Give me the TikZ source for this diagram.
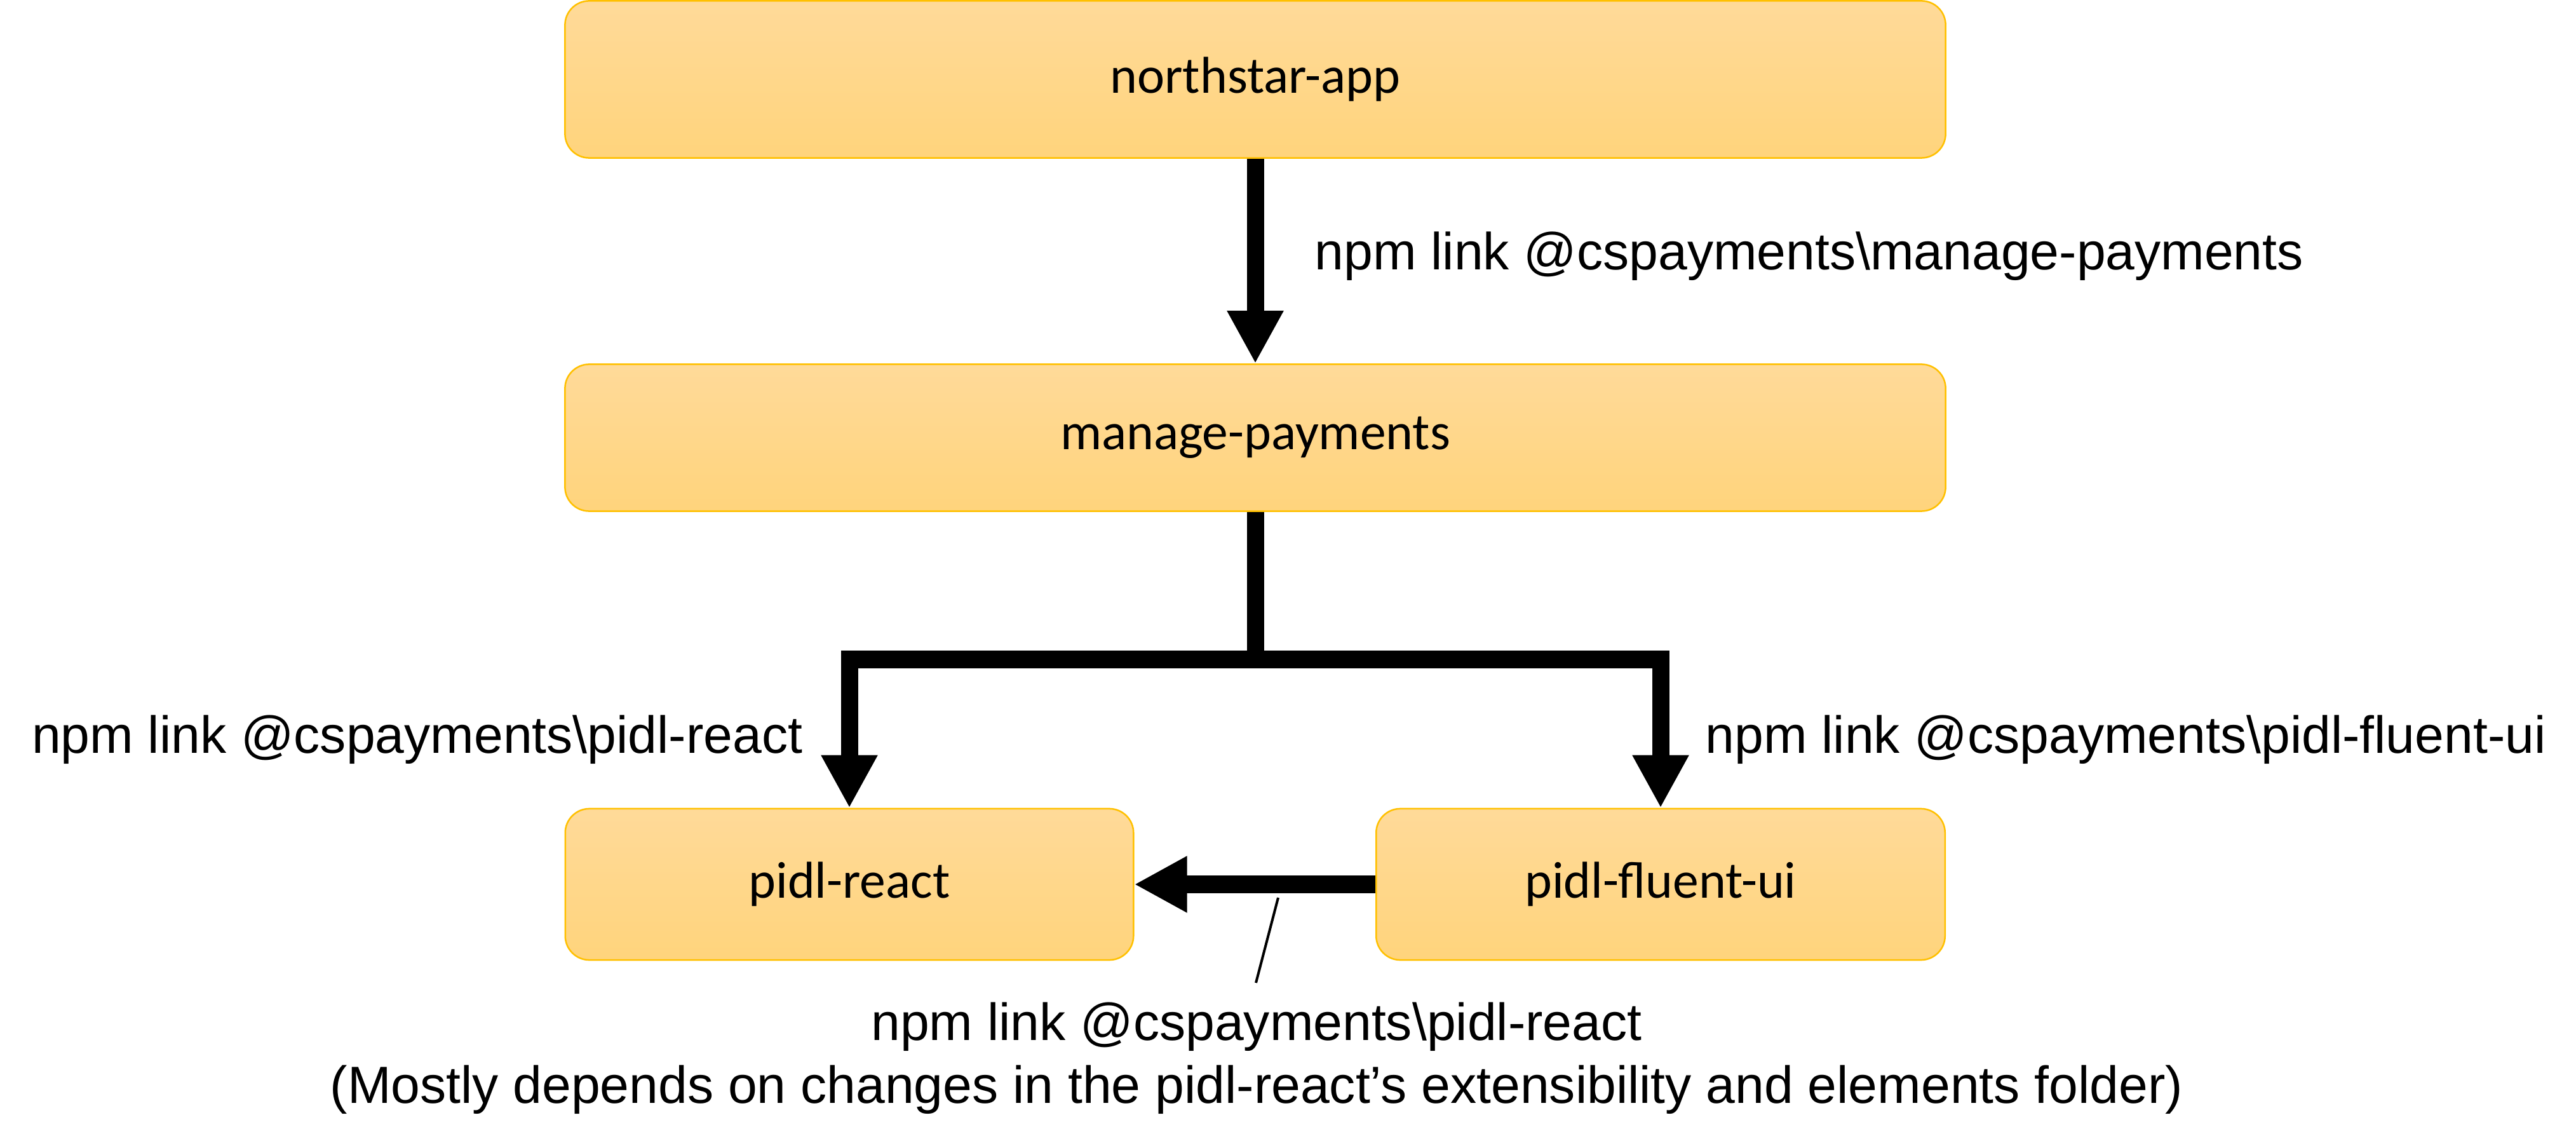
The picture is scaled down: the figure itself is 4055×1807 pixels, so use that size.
\documentclass[tikz,border=0pt]{standalone}
\usepackage{fontspec}
\setmainfont{Liberation Sans}
\newfontfamily\boxfont{Carlito}
\usetikzlibrary{arrows.meta}
\definecolor{boxborder}{HTML}{FFC000}
\definecolor{boxtop}{HTML}{FFDA99}
\definecolor{boxbot}{HTML}{FFD47C}
\begin{document}
\begin{tikzpicture}[x=0.01cm,y=-0.01cm,
  pkg/.style={rectangle, rounded corners=0.38cm, draw=boxborder, line width=0.025cm,
    top color=boxtop, bottom color=boxbot, inner sep=0pt,
    font=\boxfont\fontsize{23.2}{28}\selectfont},
  link/.style={line width=0.27cm, draw=black},
  tip/.style={-{Triangle[width=0.83cm,length=0.83cm]}},
  lbl/.style={inner sep=0pt, font=\fontsize{23.4}{27.9}\selectfont},
]
\useasboundingbox (0,0) rectangle (4055,1807);
\node[pkg, minimum width=21.72cm, minimum height=2.47cm] (app) at (1976,125) {northstar-app};
\node[pkg, minimum width=21.72cm, minimum height=2.31cm] (mp) at (1976,689) {manage-payments};
\node[pkg, minimum width=8.94cm, minimum height=2.38cm] (pr) at (1337,1392) {pidl-react};
\node[pkg, minimum width=8.95cm, minimum height=2.38cm] (pf) at (2614,1392) {pidl-fluent-ui};
\coordinate (junc) at (1976,1038);
\draw[link, tip] (app) -- (mp);
\draw[link] (mp.south) -- (junc);
\draw[link, tip] (junc) -| (pr.north);
\draw[link, tip] (junc) -| (pf.north);
\draw[link, tip] (pf.west) -- (pr.east);
\node[lbl, anchor=base west] (l1) at (2069,425) {npm link @cspayments\textbackslash manage-payments};
\node[lbl, anchor=base east] (l2) at (1264,1185) {npm link @cspayments\textbackslash pidl-react};
\node[lbl, anchor=base west] (l3) at (2684,1185) {npm link @cspayments\textbackslash pidl-fluent-ui};
\node[lbl, align=center, anchor=base] (l4) at (1978,1736) {npm link @cspayments\textbackslash pidl-react\\(Mostly depends on changes in the pidl-react’s extensibility and elements folder)};
\coordinate (la) at (2012,1413);
\coordinate (lb) at (1977,1547);
\draw[line width=0.04cm] (la) -- (lb);
\end{tikzpicture}
\end{document}
